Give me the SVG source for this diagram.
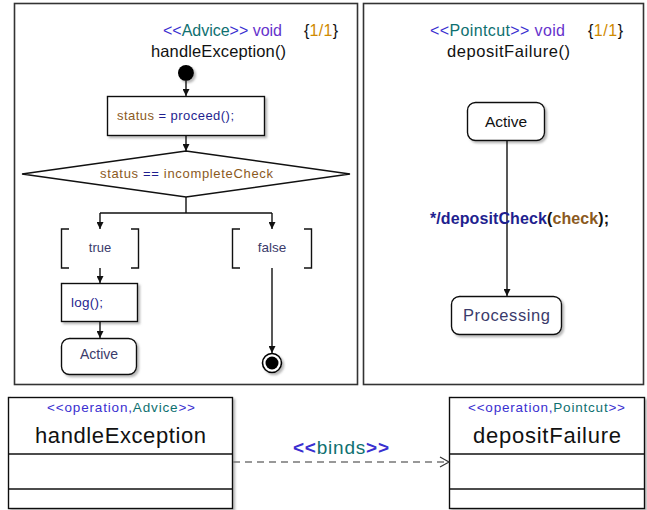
<svg xmlns="http://www.w3.org/2000/svg" width="647" height="510" viewBox="0 0 647 510">
<style>
text{font-family:"Liberation Sans",Arial,sans-serif}
.frame{fill:#fff;stroke:#333;stroke-width:1.6}
.box{fill:#fff;stroke:#111;stroke-width:1.4}
.ln{stroke:#111;stroke-width:1.4;fill:none}
.bl{fill:#3a2fd0}.tl{fill:#0e7070}.vo{fill:#6633cc}.or{fill:#d08a00}.br{fill:#8b5a1e}.nv{fill:#1f1f8f}.st{fill:#3b3b6b}.bk{fill:#111}
</style>
<defs>
<marker id="ah" viewBox="0 0 10 10" refX="10" refY="5" markerWidth="7" markerHeight="7" markerUnits="userSpaceOnUse" orient="auto"><path d="M0,0 L10,5 L0,10 z" fill="#111"/></marker>
<filter id="sh" x="-10%" y="-10%" width="130%" height="140%"><feDropShadow dx="2" dy="2" stdDeviation="1" flood-color="#888" flood-opacity="0.6"/></filter>
</defs>

<g id="frame-advice">
<rect class="frame" x="14.5" y="3.5" width="343" height="381"/>
<text x="163" y="36" font-size="16" textLength="119"><tspan class="bl">&lt;&lt;</tspan><tspan class="tl">Advice</tspan><tspan class="bl">&gt;&gt;</tspan><tspan class="vo"> void</tspan></text>
<text x="304" y="36" font-size="16" textLength="34"><tspan class="bk">{</tspan><tspan class="or">1/1</tspan><tspan class="bk">}</tspan></text>
<text x="151" y="57" font-size="16.5" textLength="135" class="bk">handleException()</text>
</g>

<g id="frame-pointcut">
<rect class="frame" x="363.5" y="3.5" width="280" height="381"/>
<text x="430" y="36" font-size="16" textLength="135"><tspan class="bl">&lt;&lt;</tspan><tspan class="tl">Pointcut</tspan><tspan class="bl">&gt;&gt;</tspan><tspan class="vo"> void</tspan></text>
<text x="588" y="36" font-size="16" textLength="35"><tspan class="bk">{</tspan><tspan class="or">1/1</tspan><tspan class="bk">}</tspan></text>
<text x="447" y="57" font-size="16.5" textLength="123" class="bk">depositFailure()</text>
</g>

<g id="initial"><circle cx="186" cy="73" r="8" fill="#000" filter="url(#sh)"/></g>

<g id="proceed">
<rect class="box" x="107.5" y="96.5" width="157" height="39" filter="url(#sh)"/>
<text x="117" y="120" font-size="13" textLength="117"><tspan class="br">status</tspan><tspan class="nv"> = proceed();</tspan></text>
</g>

<g id="decision">
<polygon class="box" points="186,151 350,174 186,197 22,174"/>
<text x="100" y="178" font-size="13" textLength="173"><tspan class="br">status</tspan><tspan class="nv"> == </tspan><tspan class="br">incompleteCheck</tspan></text>
</g>

<g id="guard-true">
<path class="ln" d="M69,229 H61.5 V268 H69 M131,229 H138.5 V268 H131"/>
<text x="100" y="252" font-size="13" text-anchor="middle" class="st">true</text>
</g>

<g id="guard-false">
<path class="ln" d="M240,229 H232.5 V268 H240 M304,229 H311.5 V268 H304"/>
<text x="272" y="252" font-size="13.5" text-anchor="middle" class="st">false</text>
</g>

<g id="log">
<rect class="box" x="61.5" y="283.5" width="76" height="38" filter="url(#sh)"/>
<text x="71" y="307" font-size="13.5" textLength="32" class="nv">log();</text>
</g>

<g id="active-left">
<rect class="box" x="61.5" y="338.5" width="75" height="36" rx="8" filter="url(#sh)"/>
<text x="99" y="359" font-size="14" text-anchor="middle" class="st">Active</text>
</g>

<g id="final">
<circle cx="272" cy="363" r="9.5" fill="#fff" stroke="#000" stroke-width="1.6" filter="url(#sh)"/>
<circle cx="272" cy="363" r="6.5" fill="#000"/>
</g>

<g id="active-right">
<rect class="box" x="467.5" y="102.5" width="77" height="38" rx="8" filter="url(#sh)"/>
<text x="506" y="127" font-size="15.5" text-anchor="middle" class="bk">Active</text>
</g>

<g id="processing">
<rect class="box" x="451.5" y="296.5" width="110" height="38" rx="8" filter="url(#sh)"/>
<text x="463" y="321" font-size="16.5" textLength="87" class="st">Processing</text>
</g>

<g id="class-handleException">
<rect class="box" x="8.5" y="397.5" width="224" height="111" filter="url(#sh)"/>
<line class="ln" x1="8.5" y1="454" x2="232.5" y2="454"/>
<line class="ln" x1="8.5" y1="489" x2="232.5" y2="489"/>
<text x="47" y="412" font-size="13.5" textLength="148"><tspan class="bl">&lt;&lt;operation,</tspan><tspan class="tl">Advice</tspan><tspan class="bl">&gt;&gt;</tspan></text>
<text x="35" y="443" font-size="22" textLength="171" class="bk">handleException</text>
</g>

<g id="class-depositFailure">
<rect class="box" x="449.5" y="397.5" width="195" height="111" filter="url(#sh)"/>
<line class="ln" x1="449.5" y1="454" x2="644.5" y2="454"/>
<line class="ln" x1="449.5" y1="489" x2="644.5" y2="489"/>
<text x="468" y="412" font-size="13.5" textLength="157"><tspan class="bl">&lt;&lt;operation,</tspan><tspan class="tl">Pointcut</tspan><tspan class="bl">&gt;&gt;</tspan></text>
<text x="473" y="443" font-size="22" textLength="148" class="bk">depositFailure</text>
</g>

<g id="connectors">
<line class="ln" x1="186" y1="81" x2="186" y2="96" marker-end="url(#ah)"/>
<line class="ln" x1="186" y1="136" x2="186" y2="151" marker-end="url(#ah)"/>
<path class="ln" d="M186,197 V213 M100,213 H272"/>
<line class="ln" x1="100" y1="213" x2="100" y2="229" marker-end="url(#ah)"/>
<line class="ln" x1="272" y1="213" x2="272" y2="229" marker-end="url(#ah)"/>
<line class="ln" x1="100" y1="268" x2="100" y2="283" marker-end="url(#ah)"/>
<line class="ln" x1="100" y1="322" x2="100" y2="338" marker-end="url(#ah)"/>
<line class="ln" x1="272" y1="268" x2="272" y2="353" marker-end="url(#ah)"/>
<line class="ln" x1="507" y1="141" x2="507" y2="296" marker-end="url(#ah)"/>
<text x="430" y="224" font-size="16" font-weight="bold" textLength="179"><tspan class="nv">*/depositCheck</tspan><tspan class="bk">(</tspan><tspan class="br">check</tspan><tspan class="bk">);</tspan></text>
<line x1="233" y1="462" x2="448" y2="462" stroke="#777" stroke-width="1.5" stroke-dasharray="7,5"/>
<path d="M440,457 L449,462 L440,467" fill="none" stroke="#333" stroke-width="1.2"/>
<text x="293" y="454" font-size="19" textLength="96"><tspan class="bl" font-weight="bold">&lt;&lt;</tspan><tspan class="tl">binds</tspan><tspan class="bl" font-weight="bold">&gt;&gt;</tspan></text>
</g>
</svg>
